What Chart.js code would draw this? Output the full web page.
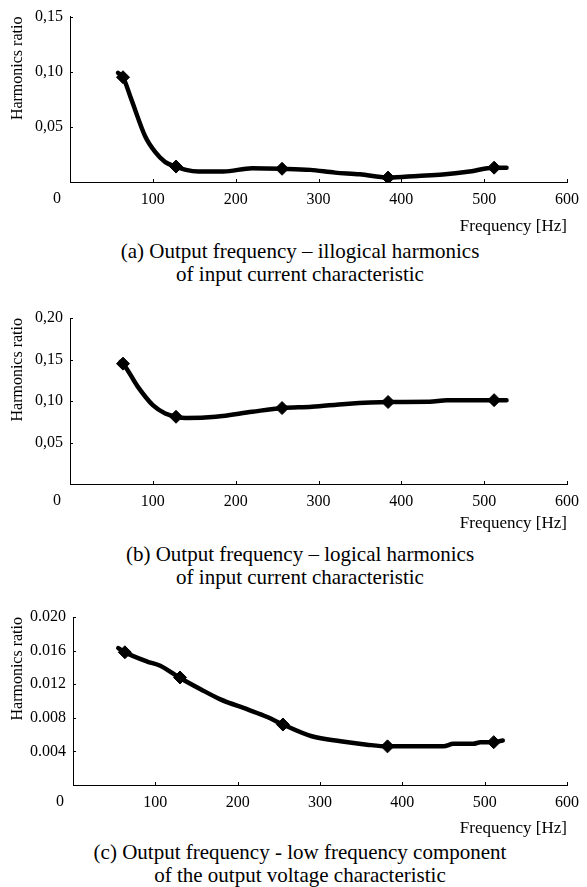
<!DOCTYPE html>
<html><head><meta charset="utf-8">
<script src="https://cdn.jsdelivr.net/npm/chart.js@4.4.1/dist/chart.umd.min.js"></script>
<style>
html,body{margin:0;padding:0;background:#fff;}
body{width:587px;height:887px;position:relative;overflow:hidden;font-family:"Liberation Serif","Times New Roman",serif;color:#000;}
.panel{position:absolute;left:0;}
.panel canvas{display:block;}
.cap{position:absolute;left:0;width:600px;text-align:center;font-size:21px;line-height:23px;white-space:nowrap;}
</style></head><body>
<div class="panel" style="top:0px"><canvas id="ca" width="587" height="237"></canvas></div>
<div class="panel" style="top:300px"><canvas id="cb" width="587" height="234"></canvas></div>
<div class="panel" style="top:600px"><canvas id="cc" width="587" height="239"></canvas></div>
<div class="cap" style="top:240px">(a) Output frequency – illogical harmonics<br>of input current characteristic</div>
<div class="cap" style="top:543px">(b) Output frequency – logical harmonics<br>of input current characteristic</div>
<div class="cap" style="top:841px">(c) Output frequency - low frequency component<br>of the output voltage characteristic</div>
<script>
// ---- data ----
const xTicks = [0, 100, 200, 300, 400, 500, 600];

// (a) illogical harmonics
const freqA  = [58, 64, 74, 91, 103, 115, 128, 140, 155, 185, 220, 256, 290, 320, 350, 384, 420, 450, 480, 512, 527];
const ratioA = [0.099, 0.095, 0.075, 0.041, 0.027, 0.018, 0.014, 0.011, 0.0095, 0.0095, 0.0125, 0.012, 0.011, 0.0085, 0.007, 0.004, 0.0055, 0.0068, 0.0092, 0.013, 0.013];
const markFreqA  = [64, 128, 256, 384, 512];
const markRatioA = [0.095, 0.014, 0.012, 0.004, 0.013];
const yTicksA = [0.05, 0.10, 0.15];

// (b) logical harmonics
const freqB  = [61, 64, 82, 100, 115, 128, 140, 176, 220, 256, 292, 333, 384, 434, 455, 512, 527];
const ratioB = [0.147, 0.145, 0.117, 0.095, 0.085, 0.081, 0.0795, 0.081, 0.087, 0.0915, 0.093, 0.0965, 0.0988, 0.099, 0.101, 0.101, 0.101];
const markFreqB  = [64, 128, 256, 384, 512];
const markRatioB = [0.145, 0.081, 0.0915, 0.0988, 0.101];
const yTicksB = [0.05, 0.10, 0.15, 0.20];

// (c) low frequency component of output voltage
const freqC  = [55, 63, 90, 106, 129, 155, 179, 212, 236, 255, 290, 325, 357, 382, 450, 462, 486, 495, 511, 522];
const ratioC = [0.0163, 0.0158, 0.0147, 0.0142, 0.0128, 0.0114, 0.0102, 0.009, 0.0081, 0.0072, 0.0058, 0.0052, 0.0048, 0.0046, 0.0046, 0.0049, 0.0049, 0.0051, 0.0051, 0.0053];
const markFreqC  = [63, 130, 255, 382, 511];
const markRatioC = [0.0158, 0.0128, 0.0072, 0.0046, 0.0051];
const yTicksC = [0.004, 0.008, 0.012, 0.016, 0.020];

// ---- drawing ----
const SERIF = "'Liberation Serif','Times New Roman',serif";
Chart.defaults.font.family = SERIF;
Chart.defaults.color = '#000';

const decor = {
  id: 'decor',
  afterDraw(chart) {
    const {ctx, scales: {x, y}} = chart;
    ctx.save();
    ctx.strokeStyle = '#000';
    ctx.lineWidth = 1;
    x.ticks.forEach(t => {
      if (t.value === 0) return;
      const px = Math.round(x.getPixelForValue(t.value)) + 0.5;
      ctx.beginPath(); ctx.moveTo(px, y.bottom); ctx.lineTo(px, y.bottom - 3); ctx.stroke();
    });
    y.ticks.forEach(t => {
      const py = Math.round(y.getPixelForValue(t.value)) + 0.5;
      ctx.beginPath(); ctx.moveTo(x.left, py); ctx.lineTo(x.left + 3, py); ctx.stroke();
    });
    ctx.fillStyle = '#000';
    ctx.font = '16px ' + SERIF;
    ctx.textAlign = 'right';
    ctx.textBaseline = 'middle';
    ctx.fillText(String(xTicks[0]), y.right - 9, y.bottom + 17);
    ctx.restore();
  }
};

function build(id, c) {
  const cv = document.getElementById(id);
  const H = cv.height;
  return new Chart(cv, {
    type: 'line',
    data: {
      datasets: [
        {
          data: c.lx.map((v, i) => ({x: v, y: c.ly[i]})),
          borderColor: '#000', borderWidth: 4.5, pointRadius: 0,
          tension: c.tension, cubicInterpolationMode: 'monotone',
          borderCapStyle: 'round', borderJoinStyle: 'round', fill: false
        },
        {
          data: c.mx.map((v, i) => ({x: v, y: c.my[i]})),
          showLine: false, pointStyle: 'rectRot', pointRadius: 6.5,
          pointBackgroundColor: '#000', pointBorderColor: '#000', pointBorderWidth: 1
        }
      ]
    },
    options: {
      responsive: false, devicePixelRatio: 1, animation: false,
      layout: {padding: {top: c.padTop, right: 20, left: 0, bottom: 0}},
      plugins: {legend: {display: false}, tooltip: {enabled: false}},
      scales: {
        x: {
          type: 'linear', min: 0, max: 600,
          afterBuildTicks: s => { s.ticks = xTicks.map(v => ({value: v})); },
          afterFit: s => { s.height = H - c.bottom; },
          grid: {display: false, drawTicks: false, drawOnChartArea: false},
          border: {display: true, color: '#000', width: 1},
          ticks: {font: {size: 16}, padding: 8, maxRotation: 0, autoSkip: false,
                  callback: v => (v === 0 ? '' : String(v))},
          title: {display: true, text: 'Frequency [Hz]', align: 'end',
                  font: {size: 17}, padding: {top: 0, bottom: 0}}
        },
        y: {
          type: 'linear', min: 0, max: c.yMax,
          afterBuildTicks: s => { s.ticks = c.yt.map(v => ({value: v})); },
          afterFit: s => { s.width = c.left; },
          grid: {display: false, drawTicks: false, drawOnChartArea: false},
          border: {display: true, color: '#000', width: 1},
          ticks: {font: {size: 16}, padding: 7, autoSkip: false,
                  callback: v => { const s = v.toFixed(c.dec); return c.comma ? s.replace('.', ',') : s; }},
          title: {display: true, text: 'Harmonics ratio', align: 'end',
                  font: {size: 16}, padding: {top: 8, bottom: 0}}
        }
      }
    },
    plugins: [decor]
  });
}

build('ca', {lx: freqA, ly: ratioA, mx: markFreqA, my: markRatioA, yt: yTicksA, yMax: 0.15,
             dec: 2, comma: true, padTop: 15, bottom: 182, left: 70, tension: 0.4});
build('cb', {lx: freqB, ly: ratioB, mx: markFreqB, my: markRatioB, yt: yTicksB, yMax: 0.20,
             dec: 2, comma: true, padTop: 18, bottom: 184, left: 70, tension: 0.4});
build('cc', {lx: freqC, ly: ratioC, mx: markFreqC, my: markRatioC, yt: yTicksC, yMax: 0.020,
             dec: 3, comma: false, padTop: 17, bottom: 185, left: 73, tension: 0.25});
</script>
</body></html>
